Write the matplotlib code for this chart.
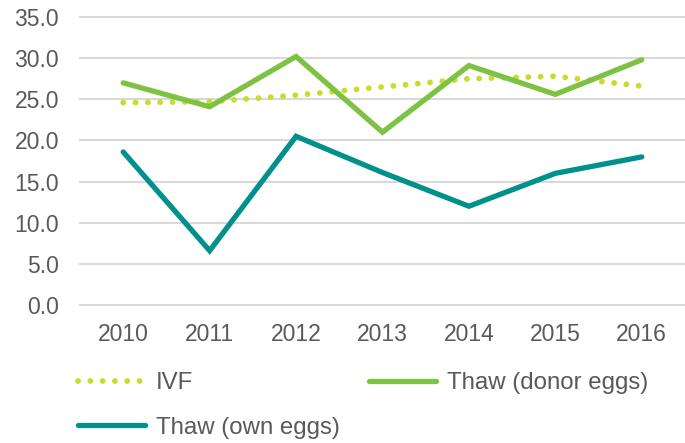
import matplotlib
matplotlib.use("Agg")
import matplotlib.pyplot as plt
from matplotlib.lines import Line2D

years = ["2010", "2011", "2012", "2013", "2014", "2015", "2016"]
ivf = [24.6, 24.7, 25.5, 26.5, 27.5, 27.8, 26.6]
thaw_donor = [27.0, 24.1, 30.2, 21.0, 29.1, 25.6, 29.8]
thaw_own = [18.6, 6.6, 20.5, 16.1, 12.0, 16.0, 18.0]
yticks = [0, 5, 10, 15, 20, 25, 30, 35]

c_ivf = "#C9DC2B"
c_donor = "#7DC242"
c_own = "#00918C"
c_text = "#595959"
c_grid = "#D9D9D9"

plt.rcParams["font.family"] = ["Liberation Sans", "DejaVu Sans"]

fig = plt.figure(figsize=(6.85, 4.43), dpi=100)
ax = fig.add_axes([80 / 685, (443 - 305) / 443, 605 / 685, 288 / 443])

dot_style = (0, (0.01, 2.1))
x = list(range(len(years)))
ax.plot(x, ivf, color=c_ivf, lw=4.2, linestyle=dot_style,
        dash_capstyle="round", label="IVF")
ax.plot(x, thaw_donor, color=c_donor, lw=3.8, solid_capstyle="round",
        solid_joinstyle="miter", label="Thaw (donor eggs)")
ax.plot(x, thaw_own, color=c_own, lw=3.8, solid_capstyle="round",
        solid_joinstyle="miter", label="Thaw (own eggs)")

ax.set_xlim(-0.5, 6.5)
ax.set_ylim(0, 35)
ax.set_yticks(yticks)
ax.set_yticklabels([f"{v:.1f}" for v in yticks])
ax.set_xticks(x)
ax.set_xticklabels(years)
ax.yaxis.grid(True, color=c_grid, lw=1.5)
ax.set_axisbelow(True)
for s in ax.spines.values():
    s.set_visible(False)
ax.tick_params(axis="both", length=0, labelsize=16.5, colors=c_text)
ax.tick_params(axis="y", pad=15)
ax.tick_params(axis="x", pad=13)
for gl in ax.get_ygridlines():
    gl.set_clip_on(False)

h_ivf = Line2D([], [], color=c_ivf, lw=4.2, linestyle=dot_style, dash_capstyle="round")
h_donor = Line2D([], [], color=c_donor, lw=3.8, solid_capstyle="round")
h_own = Line2D([], [], color=c_own, lw=3.8, solid_capstyle="round")
leg = fig.legend([h_ivf, h_own, h_donor], ["IVF", "Thaw (own eggs)", "Thaw (donor eggs)"],
                 ncol=2, loc="upper left", bbox_to_anchor=(78 / 685, 1 - 372 / 443),
                 frameon=False, fontsize=17.3, handlelength=2.8, handletextpad=0.45,
                 labelspacing=0.95, columnspacing=1.2, borderaxespad=0, borderpad=0)
for t in leg.get_texts():
    t.set_color(c_text)

fig.savefig("out.png", dpi=100)
